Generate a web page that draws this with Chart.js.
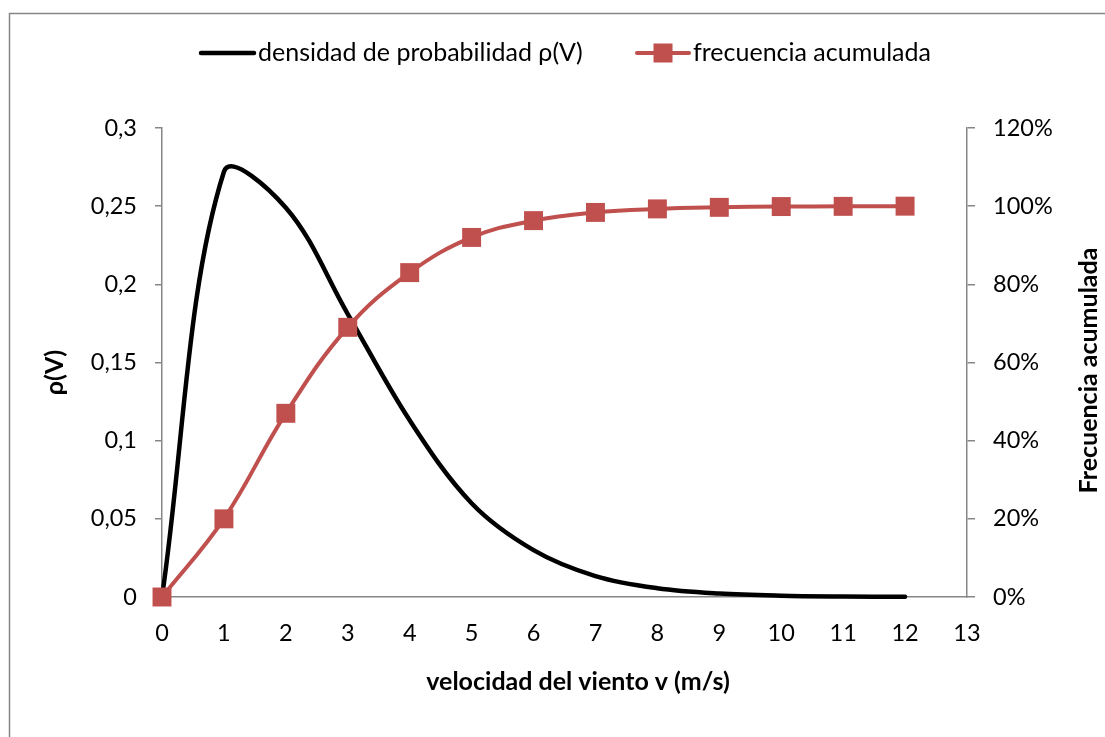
<!DOCTYPE html>
<html>
<head>
<meta charset="utf-8">
<script src="https://cdn.jsdelivr.net/npm/chart.js@4/dist/chart.umd.min.js"></script>
<style>
  html, body { margin: 0; padding: 0; background: #fff; }
  #wrap { width: 1105px; height: 737px; position: relative; }
</style>
</head>
<body>
<div id="wrap"><canvas id="c" width="1105" height="737"></canvas></div>
<script>
// Wind speed (m/s), probability density and cumulative frequency
const velocidad = [0, 1, 2, 3, 4, 5, 6, 7, 8, 9, 10, 11, 12];
const densidad  = [0, 0.272, 0.249, 0.181, 0.113, 0.060, 0.030, 0.0134, 0.0056, 0.0022, 0.0008, 0.0003, 0.0001];
const acumulada = [0, 0.20, 0.47, 0.69, 0.83, 0.92, 0.963, 0.984, 0.993, 0.997, 0.999, 0.9995, 1.0];

const serieDensidad = 'densidad de probabilidad \u03c1(V)';
const serieAcumulada = 'frecuencia acumulada';
const tituloX = 'velocidad del viento v (m/s)';
const tituloY = '\u03c1(V)';
const tituloY2 = 'Frecuencia acumulada';

const FONT = 'Lato, "Open Sans", sans-serif';
const AXIS_GRAY = '#868686';
const RED = '#C0504D';

const puntos = (ys) => velocidad.map((x, i) => ({ x: x, y: ys[i] }));

// Frame, legend and axis titles drawn around the plot
const decor = {
  id: 'decor',
  beforeDraw(chart) {
    const ctx = chart.ctx;
    ctx.save();
    ctx.fillStyle = '#fff';
    ctx.fillRect(0, 0, chart.width, chart.height);
    ctx.strokeStyle = AXIS_GRAY;
    ctx.lineWidth = 1.5;
    ctx.strokeRect(9.5, 13.5, 1200, 900);
    ctx.restore();
  },
  afterDraw(chart) {
    const ctx = chart.ctx;
    const area = chart.chartArea;
    ctx.save();
    // legend
    const ly = 53;
    ctx.lineCap = 'round';
    ctx.strokeStyle = '#000';
    ctx.lineWidth = 4.5;
    ctx.beginPath(); ctx.moveTo(201, ly); ctx.lineTo(254, ly); ctx.stroke();
    ctx.strokeStyle = RED;
    ctx.lineWidth = 4;
    ctx.beginPath(); ctx.moveTo(637, ly); ctx.lineTo(689, ly); ctx.stroke();
    ctx.fillStyle = RED;
    ctx.fillRect(663 - 9.5, ly - 9.5, 19, 19);
    ctx.fillStyle = '#000';
    ctx.font = '25px ' + FONT;
    ctx.textAlign = 'left';
    ctx.textBaseline = 'middle';
    ctx.fillText(serieDensidad, 258, ly);
    ctx.fillText(serieAcumulada, 693, ly);

    // axis titles
    ctx.font = 'bold 25px ' + FONT;
    ctx.textAlign = 'center';
    ctx.fillText(tituloX, 578, 682);
    const midY = (area.top + area.bottom) / 2;
    ctx.save();
    ctx.translate(55, midY + 10);
    ctx.rotate(-Math.PI / 2);
    ctx.fillText(tituloY, 0, 0);
    ctx.restore();
    ctx.save();
    ctx.translate(1089, midY + 8);
    ctx.rotate(-Math.PI / 2);
    ctx.fillText(tituloY2, 0, 0);
    ctx.restore();
    ctx.restore();
  }
};

new Chart(document.getElementById('c'), {
  type: 'scatter',
  data: {
    datasets: [
      {
        label: serieAcumulada,
        data: puntos(acumulada),
        yAxisID: 'y1',
        showLine: true,
        clip: false,
        borderColor: RED,
        borderWidth: 4,
        tension: 0.4,
        pointStyle: 'rect',
        pointRadius: 13.4,
        pointBackgroundColor: RED,
        pointBorderColor: RED,
        pointBorderWidth: 0,
        order: 0
      },
      {
        label: serieDensidad,
        data: puntos(densidad),
        yAxisID: 'y',
        showLine: true,
        clip: false,
        borderColor: '#000',
        borderWidth: 4.5,
        borderCapStyle: 'round',
        tension: 0.35,
        pointRadius: 0,
        order: 1
      }
    ]
  },
  options: {
    responsive: false,
    animation: false,
    events: [],
    layout: { padding: { top: 128, left: 0, right: 0, bottom: 0 } },
    plugins: { legend: { display: false }, tooltip: { enabled: false } },
    scales: {
      x: {
        type: 'linear',
        position: 'bottom',
        min: 0, max: 13,
        afterFit: (s) => { s.height = 140; },
        ticks: { stepSize: 1, color: '#000', font: { family: FONT, size: 23.5 }, padding: 14, maxRotation: 0 },
        grid: { display: false },
        border: { display: true, color: AXIS_GRAY, width: 1.5 }
      },
      y: {
        type: 'linear',
        position: 'left',
        min: 0, max: 0.3,
        afterFit: (s) => { s.width = 162; },
        ticks: {
          stepSize: 0.05,
          color: '#000',
          font: { family: FONT, size: 23.5 },
          padding: 18,
          callback: (v) => String(+v.toFixed(2)).replace('.', ',')
        },
        grid: { display: true, drawOnChartArea: false, drawTicks: true, tickLength: 7, color: AXIS_GRAY, lineWidth: 1.5 },
        border: { display: true, color: AXIS_GRAY, width: 1.5 }
      },
      y1: {
        type: 'linear',
        position: 'right',
        min: 0, max: 1.2,
        afterFit: (s) => { s.width = 138; },
        ticks: {
          stepSize: 0.2,
          color: '#000',
          font: { family: FONT, size: 23.5 },
          padding: 18,
          callback: (v) => Math.round(v * 100) + '%'
        },
        grid: { display: true, drawOnChartArea: false, drawTicks: true, tickLength: 8, color: AXIS_GRAY, lineWidth: 1.5 },
        border: { display: true, color: AXIS_GRAY, width: 1.5 }
      }
    }
  },
  plugins: [decor]
});
</script>
</body>
</html>
